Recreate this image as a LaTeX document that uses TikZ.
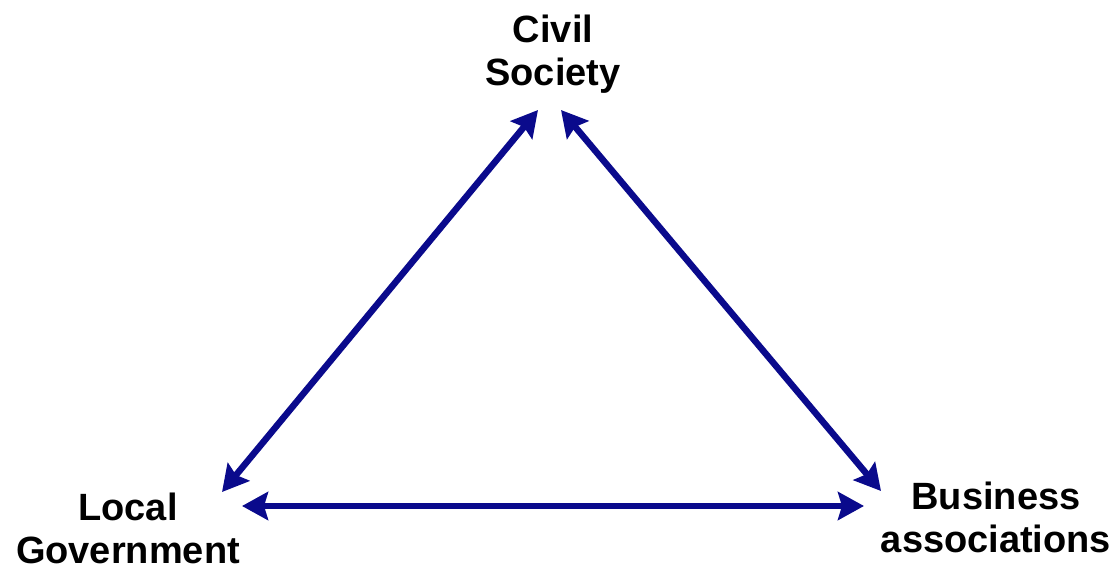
\documentclass[tikz,border=0pt]{standalone}
\usepackage{fontspec}
\setmainfont{Liberation Sans}
\usetikzlibrary{arrows.meta}
\definecolor{arrowblue}{RGB}{10,10,140}
\tikzset{
  lbl/.style={font=\bfseries\fontsize{38}{43}\selectfont, align=center, inner sep=0pt, anchor=north, text=black},
  link/.style={draw=arrowblue, line width=6.5pt, {Stealth[length=26pt,width=28pt,inset=4pt]}-{Stealth[length=26pt,width=28pt,inset=4pt]}}
}
\begin{document}
\begin{tikzpicture}[x=1pt,y=-1pt]
\useasboundingbox (0,0) rectangle (1120,571);
\node[lbl] (cs) at (553,15) {Civil\\Society};
\node[lbl] (lg) at (128,493) {Local\\Government};
\node[lbl] (ba) at (996,482) {Business\\associations};
\coordinate (csL) at (538,110);
\coordinate (csR) at (561,110);
\coordinate (lgT) at (222,492);
\coordinate (lgR) at (242,506);
\coordinate (baT) at (881,491);
\coordinate (baL) at (864,506);
\draw[link] (csL) -- (lgT);
\draw[link] (csR) -- (baT);
\draw[link] (lgR) -- (baL);
\end{tikzpicture}
\end{document}
